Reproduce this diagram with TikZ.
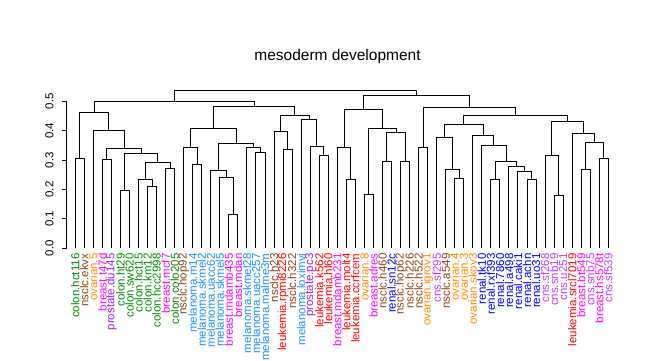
\documentclass[tikz,border=0pt]{standalone}
\usepackage{fontspec}
\setmainfont{Liberation Sans}
\usetikzlibrary{calc}
\definecolor{cGreen}{HTML}{008B00}
\definecolor{cBrown}{HTML}{8B4513}
\definecolor{cOrange}{HTML}{FF8C00}
\definecolor{cMag}{HTML}{FF00FF}
\definecolor{cPurple}{HTML}{A020F0}
\definecolor{cDodger}{HTML}{1E90FF}
\definecolor{cRed}{HTML}{FF0000}
\definecolor{cBlue}{HTML}{0000FF}
\definecolor{cViolet}{HTML}{BF3EFF}
\newcommand\dmerge[4]{%
  \coordinate (#1) at ($(#2 |- 0,#4)!0.5!(#3 |- 0,#4)$);
  \draw[tree] (#2) -- (#2 |- #1) -- (#3 |- #1) -- (#3);}
\begin{document}
\begin{tikzpicture}[x=1pt,y=-1pt,
  tree/.style={line width=1pt,black},
  lab/.style={rotate=90,anchor=east,inner sep=0pt,font=\fontsize{11.5}{12}\selectfont},
  axlab/.style={rotate=90,inner sep=0pt,font=\fontsize{11.5}{12}\selectfont},
  ttl/.style={anchor=base,inner sep=0pt,font=\fontsize{15.5}{17}\selectfont}]
\useasboundingbox[fill=white] (0,0) rectangle (647,360);
\node[ttl] (title) at (337.5,60.7) {mesoderm development};
% axis
\coordinate (ax0) at (66.7,248.3);
\coordinate (ax5) at (66.7,101.3);
\draw[tree] (ax0) -- (ax5);
\foreach \v in {0,...,5}{
  \coordinate (tk\v) at (66.7,{248.3-\v*29.4});
  \coordinate (tt\v) at (62.3,{248.3-\v*29.4});
  \draw[tree] (tk\v) -- (tt\v);
  \node[axlab] (yl\v) at (49.5,{248.3-\v*29.4}) {0.\v};
}
% leaves
\foreach \i/\n/\c in {
1/colon.hct116/cGreen, 2/nsclc.ekvx/cBrown, 3/ovarian.5/cOrange, 4/breast.t47d/cMag,
5/prostate.du145/cPurple, 6/colon.ht29/cGreen, 7/colon.sw620/cGreen, 8/colon.hct15/cGreen,
9/colon.km12/cGreen, 10/colon.hcc2998/cGreen, 11/breast.mcf7/cMag, 12/colon.colo205/cGreen,
13/nsclc.hop92/cBrown, 14/melanoma.m14/cDodger, 15/melanoma.skmel2/cDodger, 16/melanoma.uacc62/cDodger,
17/melanoma.skmel5/cDodger, 18/breast.mdamb435/cMag, 19/breast.mdan/cMag, 20/melanoma.skmel28/cDodger,
21/melanoma.uacc257/cDodger, 22/melanoma.malme3m/cDodger, 23/nsclc.h23/cBrown, 24/leukemia.rpmi8226/cRed,
25/nsclc.h322/cBrown, 26/melanoma.loximvi/cDodger, 27/prostate.pc3/cPurple, 28/leukemia.k562/cRed,
29/leukemia.hl60/cRed, 30/breast.mdamb231/cMag, 31/leukemia.molt4/cRed, 32/leukemia.ccrfcem/cRed,
33/ovarian.8/cOrange, 34/breast.adres/cMag, 35/nsclc.h460/cBrown, 36/renal.sn12c/cBlue,
37/nsclc.hop62/cBrown, 38/nsclc.h226/cBrown, 39/nsclc.h522/cBrown, 40/ovarian.igrov1/cOrange,
41/cns.sf295/cViolet, 42/nsclc.a549/cBrown, 43/ovarian.4/cOrange, 44/ovarian.3/cOrange,
45/ovarian.skov3/cOrange, 46/renal.tk10/cBlue, 47/renal.rxf393/cBlue, 48/renal.7860/cBlue,
49/renal.a498/cBlue, 50/renal.caki1/cBlue, 51/renal.achn/cBlue, 52/renal.uo31/cBlue,
53/cns.sf268/cViolet, 54/cns.snb19/cViolet, 55/cns.u251/cViolet, 56/leukemia.srcl7019/cRed,
57/breast.bt549/cMag, 58/cns.snb75/cViolet, 59/breast.hs578t/cMag, 60/cns.sf539/cViolet}{
  \coordinate (l\i) at ({75.3+(\i-1)*9.034},248.3);
  \node[lab,text=\c] (t\i) at ({75.3+(\i-1)*9.034},253.3) {\n};
}
% merges
\dmerge{A1}{l1}{l2}{158.3}
\dmerge{A2}{l4}{l5}{159.3}
\dmerge{A3}{l6}{l7}{190.3}
\dmerge{A4}{l9}{l10}{186.7}
\dmerge{A5}{l8}{A4}{179}
\dmerge{A6}{l11}{l12}{168.3}
\dmerge{A7}{A5}{A6}{162.3}
\dmerge{A8}{A3}{A7}{153}
\dmerge{A9}{A2}{A8}{148.3}
\dmerge{A10}{l3}{A9}{130.3}
\dmerge{A11}{A1}{A10}{112.3}
\dmerge{B1}{l14}{l15}{164.3}
\dmerge{B2}{l13}{B1}{147.3}
\dmerge{B3}{l18}{l19}{214.3}
\dmerge{B4}{l17}{B3}{177.3}
\dmerge{B5}{l16}{B4}{170}
\dmerge{B6}{l21}{l22}{152.3}
\dmerge{B7}{l20}{B6}{147.3}
\dmerge{B8}{B5}{B7}{143}
\dmerge{B9}{B2}{B8}{128.3}
\dmerge{B10}{l24}{l25}{149.3}
\dmerge{B11}{l23}{B10}{131.3}
\dmerge{B12}{l28}{l29}{155.3}
\dmerge{B13}{l27}{B12}{146.3}
\dmerge{B14}{l26}{B13}{119.3}
\dmerge{B15}{B11}{B14}{115}
\dmerge{B16}{B9}{B15}{106.3}
\dmerge{L}{A11}{B16}{101.3}
\dmerge{C1}{l31}{l32}{179.3}
\dmerge{C2}{l30}{C1}{147.3}
\dmerge{C3}{l33}{l34}{194.3}
\dmerge{C4}{l35}{l36}{161}
\dmerge{C5}{l37}{l38}{161}
\dmerge{C6}{C4}{C5}{132.7}
\dmerge{C7}{C3}{C6}{128.3}
\dmerge{C8}{C2}{C7}{109.3}
\dmerge{D1}{l39}{l40}{147.3}
\dmerge{D2}{l43}{l44}{178.3}
\dmerge{D3}{l42}{D2}{169.3}
\dmerge{D4}{l41}{D3}{137.3}
\dmerge{D5}{l51}{l52}{179.3}
\dmerge{D6}{l50}{D5}{171.7}
\dmerge{D7}{l49}{D6}{166.7}
\dmerge{D8}{l47}{l48}{179.3}
\dmerge{D9}{D8}{D7}{161.3}
\dmerge{D10}{l46}{D9}{145.7}
\dmerge{D11}{l45}{D10}{135.3}
\dmerge{D12}{D4}{D11}{124}
\dmerge{E1}{l54}{l55}{195.7}
\dmerge{E2}{l53}{E1}{155.7}
\dmerge{E3}{l57}{l58}{169.3}
\dmerge{E4}{l59}{l60}{158.3}
\dmerge{E5}{E3}{E4}{142.3}
\dmerge{E6}{l56}{E5}{133.3}
\dmerge{E7}{E2}{E6}{121.3}
\dmerge{D13}{D12}{E7}{115}
\dmerge{D14}{D1}{D13}{107.3}
\dmerge{R1}{C8}{D14}{95.7}
\dmerge{ROOT}{L}{R1}{90}
\end{tikzpicture}
\end{document}
